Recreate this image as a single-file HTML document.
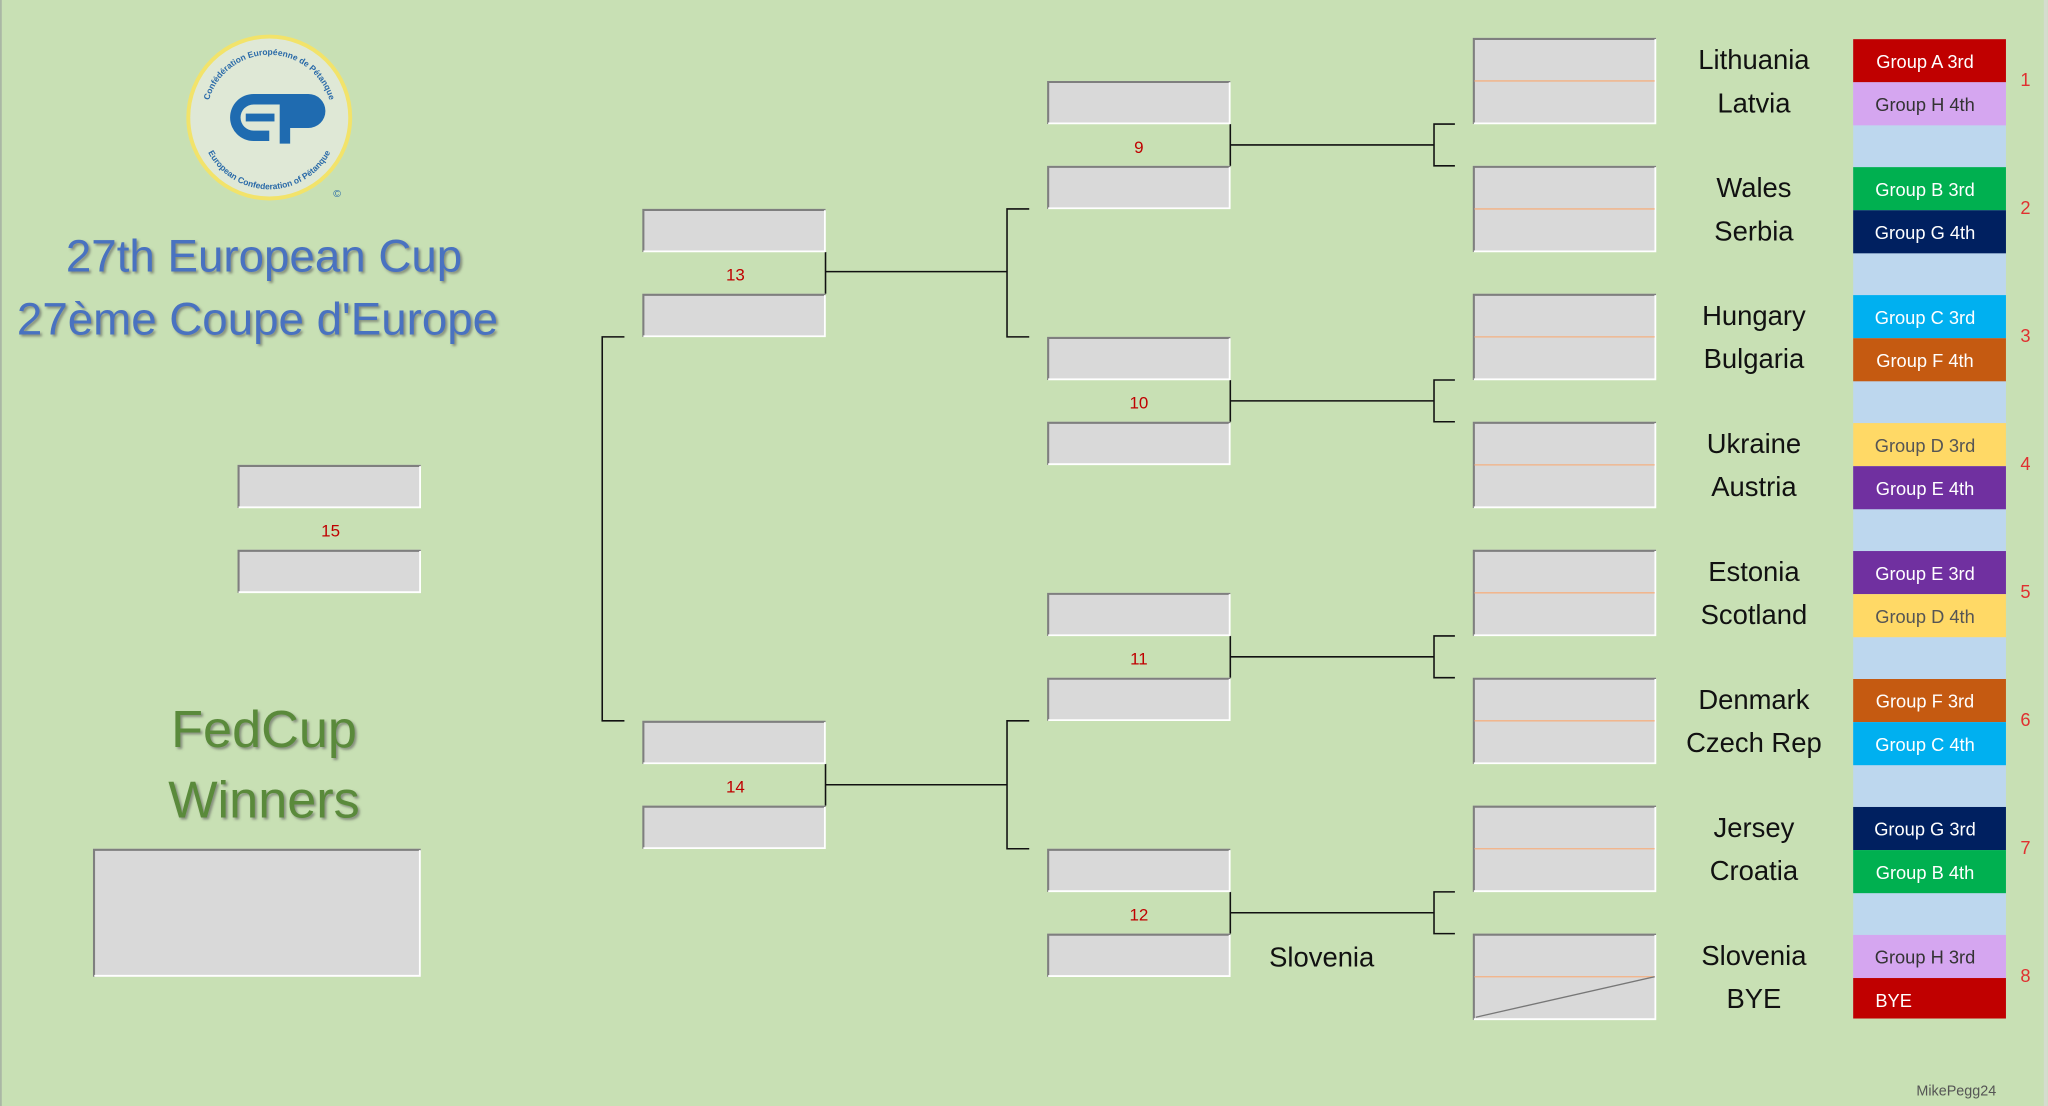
<!DOCTYPE html>
<html><head><meta charset="utf-8"><style>
html,body{margin:0;padding:0;background:#c8e0b4;}
svg{display:block;}
</style></head><body>
<svg width="2048" height="1106" viewBox="0 0 1568 847" xmlns="http://www.w3.org/2000/svg" font-family="Liberation Sans, sans-serif">
<defs>
<g id="bx"><rect x="0" y="0" width="140" height="33" fill="#d9d9d9"/><path d="M0.5,33 V0.8 H140" stroke="#7f7f7f" stroke-width="1.6" fill="none"/><path d="M0.5,32.5 H139.5 V1" stroke="#fff" stroke-width="1.4" fill="none"/></g>
<g id="bb"><rect x="0" y="0" width="140" height="66" fill="#d9d9d9"/><path d="M0.5,66 V0.8 H140" stroke="#7f7f7f" stroke-width="1.6" fill="none"/><path d="M0.5,65.5 H139.5 V1" stroke="#fff" stroke-width="1.4" fill="none"/><line x1="1" y1="33" x2="139" y2="33" stroke="#f4b183" stroke-width="1"/></g>
<filter id="sh" x="-10%" y="-10%" width="120%" height="130%"><feDropShadow dx="1.5" dy="1.5" stdDeviation="1" flood-color="#555" flood-opacity="0.6"/></filter>
<path id="arcTop" d="M158,90 A48,48 0 0 1 254,90"/>
<path id="arcBot" d="M153,92 A53,53 0 0 0 259,92"/>
</defs>
<rect width="1568" height="847" fill="#c8e0b4"/>
<line x1="0.5" y1="0" x2="0.5" y2="847" stroke="#a0a8a0" stroke-width="1"/>
<rect x="1565" y="0" width="3" height="847" fill="#d5dccf"/>

<!-- logo -->
<circle cx="206" cy="90" r="62" fill="#dfe8d6" stroke="#f2e36a" stroke-width="3"/>
<text font-size="6.5" font-weight="bold" fill="#2a6aa8"><textPath href="#arcTop" startOffset="50%" text-anchor="middle">Confédération Européenne de Pétanque</textPath></text>
<text font-size="6.5" font-weight="bold" fill="#2a6aa8"><textPath href="#arcBot" startOffset="50%" text-anchor="middle">European Confederation of Pétanque</textPath></text>
<path d="M194,72 H236 A13,13 0 0 1 236,98 H222 V110 H214 V80 H194 A10,10 0 0 0 194,100 H206 V108 H194 A18,18 0 0 1 194,72 Z" fill="#1f6bb0"/>
<rect x="188" y="87" width="22" height="6" fill="#1f6bb0"/>
<text x="258" y="151" font-size="8" fill="#2a6aa8" text-anchor="middle">©</text>

<!-- titles -->
<g filter="url(#sh)" font-family="Liberation Sans, sans-serif" text-anchor="middle">
<text x="202" y="208" font-size="35" fill="#4a72c0">27th European Cup</text>
<text x="197" y="256" font-size="35" fill="#4a72c0">27ème Coupe d'Europe</text>
<text x="202" y="572" font-size="40" fill="#5a8a3a">FedCup</text>
<text x="202" y="626" font-size="40" fill="#5a8a3a">Winners</text>
</g>

<!-- box 15 -->
<use href="#bx" x="182" y="356"/><use href="#bx" x="182" y="421"/>
<text x="253" y="411" font-size="13" fill="#c00000" text-anchor="middle">15</text>
<!-- winner box -->
<rect x="71" y="650" width="251" height="98" fill="#d9d9d9"/>
<path d="M71.8,748 V650.8 H322" stroke="#7f7f7f" stroke-width="1.6" fill="none"/>
<path d="M72,747.3 H321.3 V651" stroke="#fff" stroke-width="1.4" fill="none"/>

<!-- round 3 boxes 13, 14 -->
<g stroke="#111" stroke-width="1.2" fill="none">
<path d="M632,193 V225 M632,208 H771 M788,160 H771 V258 H788"/>
<path d="M632,585 V617 M632,601 H771 M788,552 H771 V650 H788"/>
<path d="M478,258 H461 V552 H478"/>
</g>
<use href="#bx" x="492" y="160"/><use href="#bx" x="492" y="225"/>
<text x="563" y="215" font-size="13" fill="#c00000" text-anchor="middle">13</text>
<use href="#bx" x="492" y="552"/><use href="#bx" x="492" y="617"/>
<text x="563" y="607" font-size="13" fill="#c00000" text-anchor="middle">14</text>

<!-- round 2 boxes 9-12 -->
<g stroke="#111" stroke-width="1.2" fill="none">
<path d="M942,95 V127 M942,111 H1098 M1114,95 H1098 V127 H1114"/>
<path d="M942,291 V323 M942,307 H1098 M1114,291 H1098 V323 H1114"/>
<path d="M942,487 V519 M942,503 H1098 M1114,487 H1098 V519 H1114"/>
<path d="M942,683 V715 M942,699 H1098 M1114,683 H1098 V715 H1114"/>
</g>
<use href="#bx" x="802" y="62"/><use href="#bx" x="802" y="127"/>
<use href="#bx" x="802" y="258"/><use href="#bx" x="802" y="323"/>
<use href="#bx" x="802" y="454"/><use href="#bx" x="802" y="519"/>
<use href="#bx" x="802" y="650"/><use href="#bx" x="802" y="715"/>
<g font-size="13" fill="#c00000" text-anchor="middle">
<text x="872" y="117">9</text><text x="872" y="313">10</text><text x="872" y="509">11</text><text x="872" y="705">12</text>
</g>
<text x="1012" y="740" font-size="21" fill="#111" text-anchor="middle">Slovenia</text>

<!-- round 1 boxes -->
<use href="#bb" x="1128" y="29"/><use href="#bb" x="1128" y="127"/>
<use href="#bb" x="1128" y="225"/><use href="#bb" x="1128" y="323"/>
<use href="#bb" x="1128" y="421"/><use href="#bb" x="1128" y="519"/>
<use href="#bb" x="1128" y="617"/><use href="#bb" x="1128" y="715"/>
<line x1="1130" y1="779" x2="1267" y2="748" stroke="#777" stroke-width="1"/>

<!-- names -->
<g font-size="21" fill="#111" text-anchor="middle">
<text x="1343" y="53">Lithuania</text><text x="1343" y="86">Latvia</text>
<text x="1343" y="151">Wales</text><text x="1343" y="184">Serbia</text>
<text x="1343" y="249">Hungary</text><text x="1343" y="282">Bulgaria</text>
<text x="1343" y="347">Ukraine</text><text x="1343" y="380">Austria</text>
<text x="1343" y="445">Estonia</text><text x="1343" y="478">Scotland</text>
<text x="1343" y="543">Denmark</text><text x="1343" y="576">Czech Rep</text>
<text x="1343" y="641">Jersey</text><text x="1343" y="674">Croatia</text>
<text x="1343" y="739">Slovenia</text><text x="1343" y="772">BYE</text>
</g>

<!-- color bars -->
<g>
<rect x="1419" y="30" width="117" height="750" fill="#bdd7ee"/>
<rect x="1419" y="30" width="117" height="33" fill="#c00000"/>
<rect x="1419" y="63" width="117" height="33" fill="#d5a6f0"/>
<rect x="1419" y="128" width="117" height="33" fill="#00b050"/>
<rect x="1419" y="161" width="117" height="33" fill="#002060"/>
<rect x="1419" y="226" width="117" height="33" fill="#00b0f0"/>
<rect x="1419" y="259" width="117" height="33" fill="#c55a11"/>
<rect x="1419" y="324" width="117" height="33" fill="#ffd966"/>
<rect x="1419" y="357" width="117" height="33" fill="#7030a0"/>
<rect x="1419" y="422" width="117" height="33" fill="#7030a0"/>
<rect x="1419" y="455" width="117" height="33" fill="#ffd966"/>
<rect x="1419" y="520" width="117" height="33" fill="#c55a11"/>
<rect x="1419" y="553" width="117" height="33" fill="#00b0f0"/>
<rect x="1419" y="618" width="117" height="33" fill="#002060"/>
<rect x="1419" y="651" width="117" height="33" fill="#00b050"/>
<rect x="1419" y="716" width="117" height="33" fill="#d5a6f0"/>
<rect x="1419" y="749" width="117" height="31" fill="#c00000"/>
</g>
<g font-size="14" text-anchor="middle" fill="#fff">
<text x="1474" y="52">Group A 3rd</text><text x="1474" y="85" fill="#333">Group H 4th</text>
<text x="1474" y="150">Group B 3rd</text><text x="1474" y="183">Group G 4th</text>
<text x="1474" y="248">Group C 3rd</text><text x="1474" y="281">Group F 4th</text>
<text x="1474" y="346" fill="#555">Group D 3rd</text><text x="1474" y="379">Group E 4th</text>
<text x="1474" y="444">Group E 3rd</text><text x="1474" y="477" fill="#555">Group D 4th</text>
<text x="1474" y="542">Group F 3rd</text><text x="1474" y="575">Group C 4th</text>
<text x="1474" y="640">Group G 3rd</text><text x="1474" y="673">Group B 4th</text>
<text x="1474" y="738" fill="#333">Group H 3rd</text><text x="1436" y="771" text-anchor="start">BYE</text>
</g>
<g font-size="14" fill="#e03030" text-anchor="middle">
<text x="1551" y="66">1</text><text x="1551" y="164">2</text><text x="1551" y="262">3</text><text x="1551" y="360">4</text>
<text x="1551" y="458">5</text><text x="1551" y="556">6</text><text x="1551" y="654">7</text><text x="1551" y="752">8</text>
</g>
<text x="1498" y="839" font-size="11" fill="#555" text-anchor="middle">MikePegg24</text>
</svg>
</body></html>
